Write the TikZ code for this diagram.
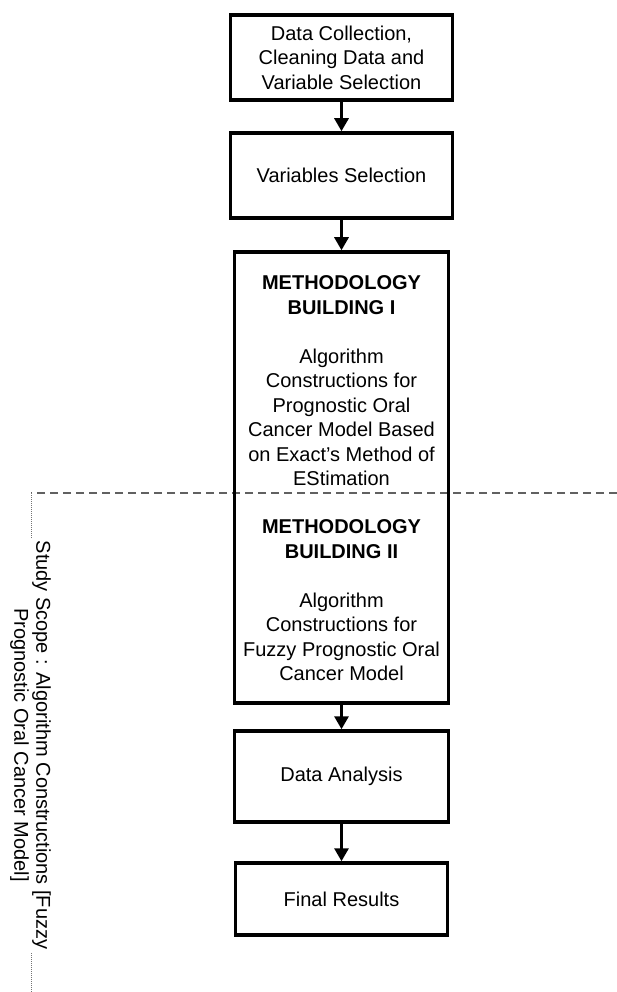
\documentclass[tikz,border=0pt]{standalone}
\usepackage{fontspec}
\setmainfont{Liberation Sans}
\usetikzlibrary{arrows.meta}
\begin{document}
\begin{tikzpicture}[x=1pt,y=-1pt,
  box/.style={draw=black, line width=3.5pt, inner sep=0pt, align=center,
    font=\fontsize{20}{24.5}\selectfont},
  txt/.style={inner sep=0pt, align=center, font=\fontsize{20}{24.5}\selectfont},
  flow/.style={draw=black, line width=3pt, -{Triangle[width=14pt,length=13pt]}},
  scopedash/.style={draw=black!62, line width=1.5pt, dash pattern=on 8pt off 5pt},
  scopedot/.style={draw=black!55, line width=0.8pt, dash pattern=on 1pt off 1pt},
  scopelabel/.style={rotate=-90, fill=white, inner sep=3pt, align=center,
    font=\fontsize{20}{22}\selectfont}]
\useasboundingbox (0,0) rectangle (617,992);

% study scope boundary
\coordinate (dl) at (31,493);
\coordinate (dr) at (617,493);
\coordinate (db) at (31,992);
\draw[scopedash] (dr) -- (dl);
\draw[scopedot] (dl) -- (db);
\node[scopelabel] (scope) at (30.5,745)
  {Study Scope : Algorithm Constructions [Fuzzy\\Prognostic Oral Cancer Model]};

% boxes
\node[box, minimum width=222pt, minimum height=85pt] (collect) at (341.5,57.5)
  {Data Collection,\\Cleaning Data and\\Variable Selection};
\node[box, minimum width=222pt, minimum height=85pt] (varsel) at (341.5,175.5)
  {Variables Selection};
\node[box, minimum width=214pt, minimum height=451pt] (method) at (341.5,477.5) {};
\node[txt, anchor=north] (partI) at (341.5,275.8)
  {\textbf{METHODOLOGY}\\\textbf{BUILDING I}\\[24.5pt]Algorithm\\Constructions for\\Prognostic Oral\\Cancer Model Based\\on Exact’s Method of\\EStimation};
\node[txt, anchor=north] (partII) at (341.5,519.8)
  {\textbf{METHODOLOGY}\\\textbf{BUILDING II}\\[24.5pt]Algorithm\\Constructions for\\Fuzzy Prognostic Oral\\Cancer Model};
\node[box, minimum width=214pt, minimum height=91pt] (analysis) at (341.5,776.5)
  {Data Analysis};
\node[box, minimum width=212pt, minimum height=72pt] (final) at (341.5,899)
  {Final Results};

% connectors
\draw[flow] (collect.south) -- (varsel.north);
\draw[flow] (varsel.south) -- (method.north);
\draw[flow] (method.south) -- (analysis.north);
\draw[flow] (analysis.south) -- (final.north);
\end{tikzpicture}
\end{document}
